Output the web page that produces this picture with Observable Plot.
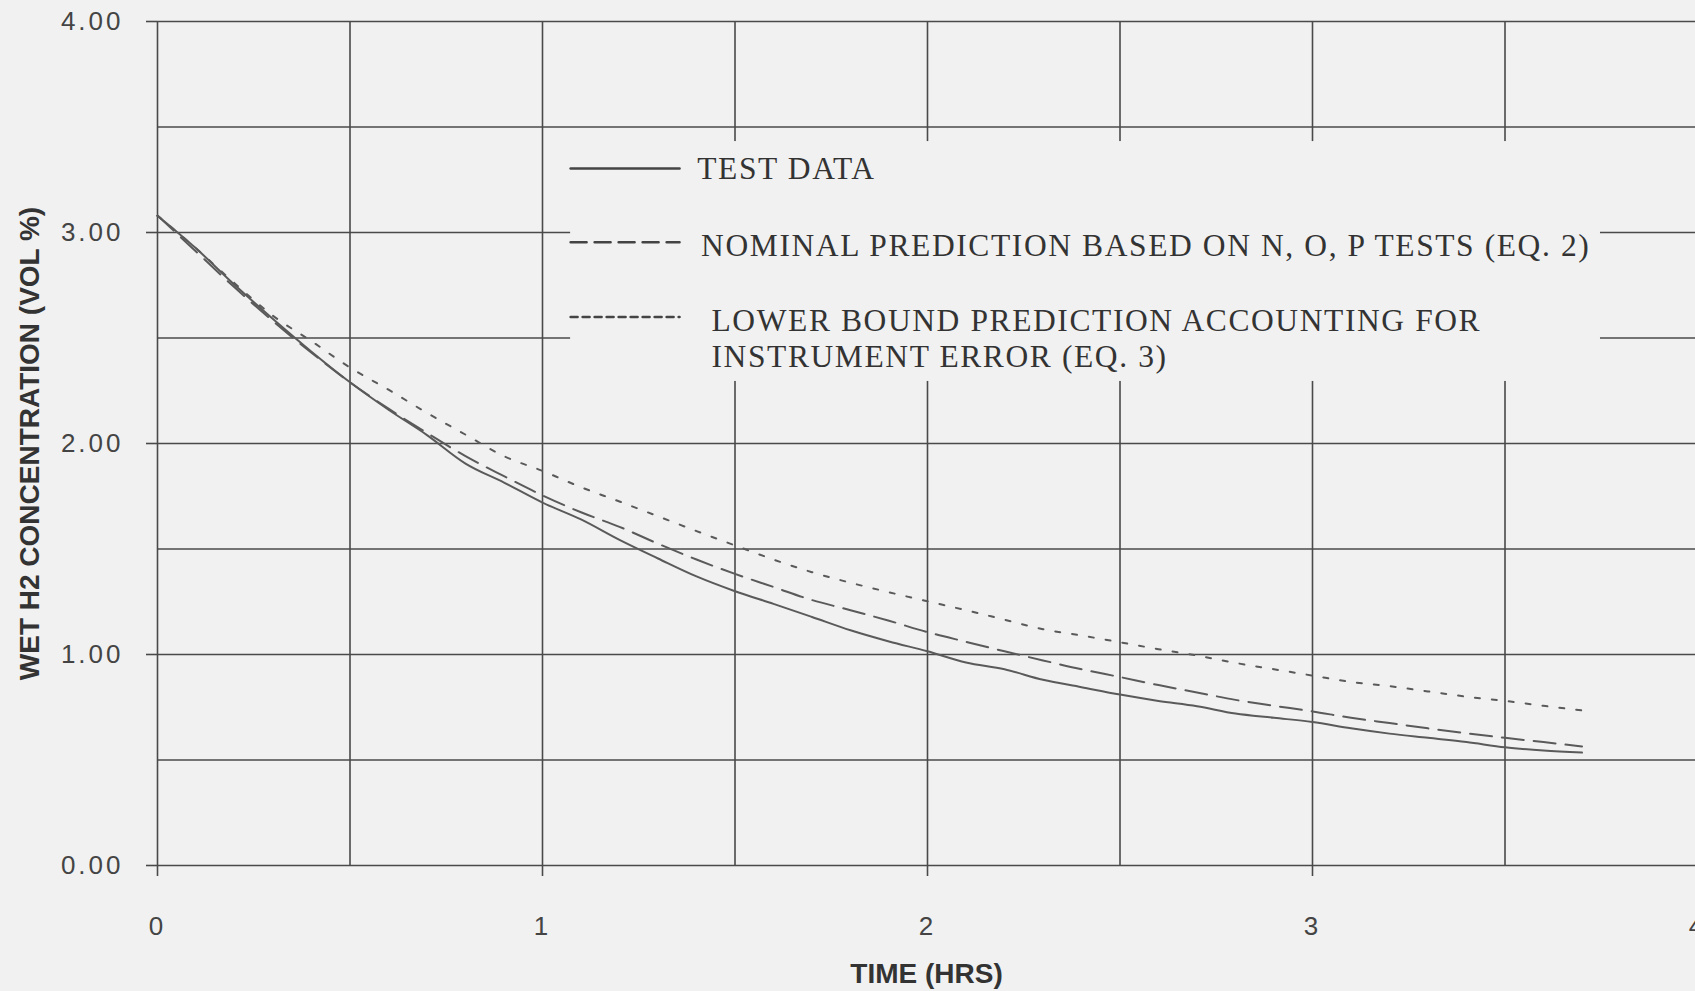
<!DOCTYPE html>
<html>
<head>
<meta charset="utf-8">
<script src="https://cdn.jsdelivr.net/npm/d3@7"></script>
<script src="https://cdn.jsdelivr.net/npm/@observablehq/plot@0.6"></script>
<style>
  html, body { margin: 0; padding: 0; background: #f1f1f1; overflow: hidden; }
  #chart svg { display: block; }
  .h2plot g[aria-label="y-axis tick label"] text,
  .h2plot g[aria-label="x-axis tick label"] text { letter-spacing: 3px; }
  .h2plot g.legend-label text { letter-spacing: 1.6px; }
</style>
</head>
<body>
<div id="chart"></div>
<script>
// Elapsed time (hours) at which each curve is sampled
const hours = [0, 0.1, 0.2, 0.3, 0.4, 0.5, 0.6, 0.7, 0.8, 0.9,
               1.0, 1.1, 1.2, 1.3, 1.4, 1.5, 1.6, 1.7, 1.8, 1.9,
               2.0, 2.1, 2.2, 2.3, 2.4, 2.5, 2.6, 2.7, 2.8, 2.9,
               3.0, 3.1, 3.2, 3.3, 3.4, 3.5, 3.6, 3.7];

// Wet H2 concentration (vol %)
const testData = [3.08, 2.925, 2.752, 2.59, 2.435, 2.29, 2.16, 2.04, 1.905, 1.815,
                  1.72, 1.64, 1.543, 1.455, 1.37, 1.30, 1.24, 1.178, 1.115, 1.062,
                  1.015, 0.962, 0.93, 0.88, 0.845, 0.81, 0.78, 0.755, 0.72, 0.70,
                  0.68, 0.65, 0.625, 0.605, 0.585, 0.56, 0.545, 0.535];

const nominalPrediction = [3.08, 2.91, 2.74, 2.58, 2.43, 2.29, 2.165, 2.05, 1.94, 1.845,
                           1.754, 1.674, 1.605, 1.525, 1.45, 1.382, 1.32, 1.258, 1.21, 1.16,
                           1.106, 1.06, 1.015, 0.972, 0.93, 0.893, 0.855, 0.82, 0.785, 0.757,
                           0.73, 0.70, 0.675, 0.65, 0.627, 0.605, 0.585, 0.564];

const lowerBoundPrediction = [3.08, 2.925, 2.76, 2.605, 2.485, 2.36, 2.255, 2.145, 2.042, 1.94,
                              1.87, 1.793, 1.725, 1.655, 1.585, 1.517, 1.45, 1.39, 1.34, 1.295,
                              1.252, 1.21, 1.165, 1.12, 1.09, 1.058, 1.025, 0.995, 0.96, 0.93,
                              0.90, 0.87, 0.85, 0.825, 0.80, 0.78, 0.757, 0.735];

const seriesNames = [
  "TEST DATA",
  "NOMINAL PREDICTION BASED ON N, O, P TESTS (EQ. 2)",
  "LOWER BOUND PREDICTION ACCOUNTING FOR\nINSTRUMENT ERROR (EQ. 3)"
];

// Axis ticks and grid lines
const xTickValues = [0, 1, 2, 3, 4];
const yTickValues = [0, 1, 2, 3, 4];
const xGridValues = [0, 0.5, 1, 1.5, 2, 2.5, 3, 3.5, 4];
const yGridValues = [0, 0.5, 1, 1.5, 2, 2.5, 3, 3.5, 4];

// ---- drawing ----
const bg = "#f1f1f1";
const ink = "#4a4a4a";
const lineInk = "#5a5a5a";
const dashes = ["none", "22,10", "5,12"];
const legendDashes = ["none", "16,8", "7,5"];

const seriesValues = [testData, nominalPrediction, lowerBoundPrediction];
const rows = seriesValues.flatMap((vals, s) =>
  hours.map((t, i) => ({ series: seriesNames[s], s, t, v: vals[i] })));

// Legend panel, placed in data units inside the frame
const legendBox = { x1: 1.073, x2: 3.748, y1: 2.294, y2: 3.431 };
const legendRows = [
  { s: 0, lineY: 3.303, textX: 1.402, textY: 3.308 },
  { s: 1, lineY: 2.954, textX: 1.412, textY: 2.946 },
  { s: 2, lineY: 2.599, textX: 1.439, textY: 2.504 }
];
const legendLineX = [1.073, 1.356];

const marks = [
  Plot.ruleX(xGridValues, { stroke: ink, strokeWidth: 1.6 }),
  Plot.ruleY(yGridValues, { stroke: ink, strokeWidth: 1.6 }),
  Plot.rect([legendBox], { x1: "x1", x2: "x2", y1: "y1", y2: "y2", fill: bg }),
  Plot.axisY(yTickValues, {
    tickSize: 11, tickPadding: 23, stroke: ink, strokeWidth: 1.6,
    tickFormat: d => d.toFixed(2), fontSize: 26, fill: "#444", label: null
  }),
  Plot.axisX(xTickValues, {
    tickSize: 11, tickPadding: 40, stroke: ink, strokeWidth: 1.6,
    tickFormat: d => String(d), fontSize: 26, fill: "#444", label: null
  }),
  ...[0, 1, 2].map(s => Plot.line(rows.filter(r => r.s === s), {
    x: "t", y: "v", stroke: lineInk, strokeWidth: 2,
    strokeDasharray: dashes[s], curve: "monotone-x"
  })),
  ...legendRows.map(r => Plot.line(legendLineX.map(x => ({ x, y: r.lineY })), {
    x: "x", y: "y", stroke: "#444", strokeWidth: 2.5, strokeDasharray: legendDashes[r.s]
  })),
  Plot.text(legendRows, {
    x: "textX", y: "textY", text: r => seriesNames[r.s],
    textAnchor: "start", lineAnchor: "middle", lineHeight: 1.16,
    fontFamily: "Liberation Serif, Times New Roman, serif", fontSize: 31.5, fill: "#333",
    className: "legend-label"
  }),
  Plot.text(["WET H2 CONCENTRATION (VOL %)"], {
    frameAnchor: "left", textAnchor: "middle", lineAnchor: "middle",
    rotate: -90, dx: -127, dy: 0,
    fontWeight: "bold", fontSize: 28, fill: "#333"
  }),
  Plot.text(["TIME (HRS)"], {
    frameAnchor: "bottom", textAnchor: "middle", lineAnchor: "middle",
    dy: 109, fontWeight: "bold", fontSize: 28, fill: "#333"
  })
];

const chart = Plot.plot({
  className: "h2plot",
  width: 1695,
  height: 991,
  marginLeft: 157,
  marginRight: 0,
  marginTop: 21,
  marginBottom: 126,
  x: { domain: [0, 4], range: [157, 1697] },
  y: { domain: [0, 4] },
  style: {
    background: bg,
    fontFamily: "Liberation Sans, Arial, sans-serif",
    overflow: "visible"
  },
  marks
});

document.getElementById("chart").appendChild(chart);
</script>
</body>
</html>
